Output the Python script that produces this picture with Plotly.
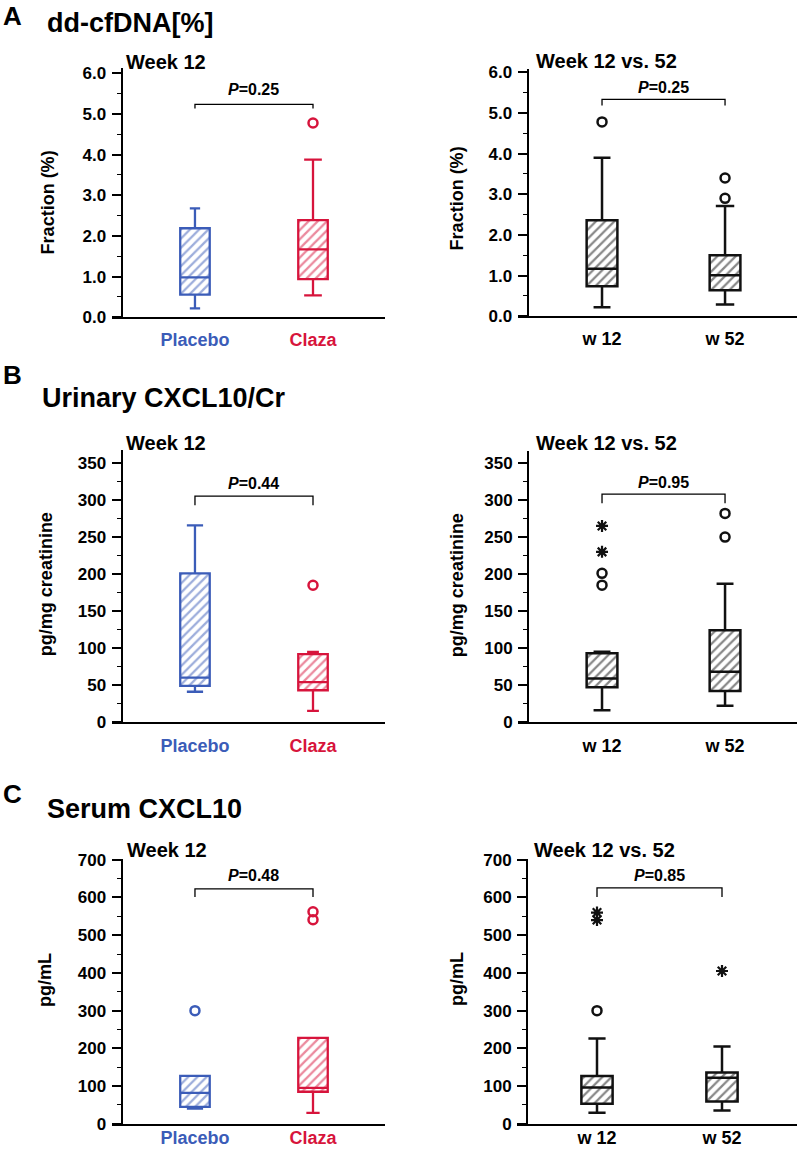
import plotly.graph_objects as go

W, H = 800, 1153
BLUE = "#3b5cb8"
RED = "#d7143c"
BLACK = "#111111"

# ---------------- data ----------------
groups_left = ["Placebo", "Claza"]
groups_right = ["w 12", "w 52"]

a_placebo = [0.22, 0.56, 0.98, 2.19, 2.68]
a_claza = [0.54, 0.94, 1.67, 2.39, 3.88]
a_claza_out = [4.78]
a_w12 = [0.22, 0.74, 1.17, 2.36, 3.90]
a_w12_out = [4.78]
a_w52 = [0.29, 0.64, 1.01, 1.50, 2.71]
a_w52_out = [2.90, 3.40]

b_placebo = [41, 49, 60, 201, 266]
b_claza = [15, 43, 54, 92, 95]
b_claza_out = [185]
b_w12 = [16, 47, 59, 93, 95]
b_w12_out = [185, 201]
b_w12_ext = [230, 265]
b_w52 = [22, 42, 68, 124, 187]
b_w52_out = [250, 282]

c_placebo = [40, 45, 82, 127, 127]
c_placebo_out = [300]
c_claza = [29, 85, 95, 228, 228]
c_claza_out = [541, 562]
c_w12 = [29, 53, 96, 127, 226]
c_w12_out = [300]
c_w12_ext = [540, 560]
c_w52 = [35, 59, 122, 136, 205]
c_w52_ext = [405]

p_values = ["0.25", "0.25", "0.44", "0.95", "0.48", "0.85"]

# vertical calibration of the capture (observed = 0.985 * page_y + 7.5)
VS, VO = 0.985, 7.5

def px_x(v):
    return v / W

def px_y(t):
    v = (t - VO) / VS
    return 1 - v / H

fig = go.Figure()
layout = {}
annotations = []
shapes = []
FONT = "Arial"

panels = [
    dict(xdom=(112, 385), ypos=121.5, ybot=317, ytop=68, yr=(0, 6.12), dt=1, mdt=0.5, fmt=".1f",
         xr=(0.297, 2.61), cats=groups_left, colored=True, stand=5,
         boxes=[a_placebo, a_claza], out=[[], a_claza_out], ext=[[], []],
         ytitle="Fraction (%)", ytx=(48, 202), sub="Week 12", subxy=(124, 62),
         p=p_values[0], pxy=(89,), br=(104, 108), ww=[0.35, 0.6]),
    dict(xdom=(518, 797), ypos=527.5, ybot=316, ytop=69, yr=(0, 6.07), dt=1, mdt=0.5, fmt=".1f",
         xr=(0.317, 2.585), cats=groups_right, colored=False, stand=5,
         boxes=[a_w12, a_w52], out=[a_w12_out, a_w52_out], ext=[[], []],
         ytitle="Fraction (%)", ytx=(457, 198), sub="Week 12 vs. 52", subxy=(534, 61),
         p=p_values[1], pxy=(87,), br=(99, 105), ww=[0.55, 0.6]),
    dict(xdom=(112, 385), ypos=121.5, ybot=722, ytop=450, yr=(0, 367.6), dt=50, mdt=25, fmt="d",
         xr=(0.297, 2.61), cats=groups_left, colored=True, stand=6,
         boxes=[b_placebo, b_claza], out=[[], b_claza_out], ext=[[], []],
         ytitle="pg/mg creatinine", ytx=(46, 584), sub="Week 12", subxy=(124, 443),
         p=p_values[2], pxy=(483,), br=(496, 505), ww=[0.55, 0.4]),
    dict(xdom=(518, 797), ypos=528, ybot=722, ytop=451, yr=(0, 366), dt=50, mdt=25, fmt="d",
         xr=(0.317, 2.585), cats=groups_right, colored=False, stand=6,
         boxes=[b_w12, b_w52], out=[b_w12_out, b_w52_out], ext=[b_w12_ext, []],
         ytitle="pg/mg creatinine", ytx=(457, 585), sub="Week 12 vs. 52", subxy=(534, 443),
         p=p_values[3], pxy=(482,), br=(494, 503), ww=[0.55, 0.55]),
    dict(xdom=(112, 385), ypos=121.5, ybot=1124, ytop=859, yr=(0, 702), dt=100, mdt=50, fmt="d",
         xr=(0.297, 2.61), cats=groups_left, colored=True, stand=-3,
         boxes=[c_placebo, c_claza], out=[c_placebo_out, c_claza_out], ext=[[], []],
         ytitle="pg/mL", ytx=(45, 980), sub="Week 12", subxy=(125, 850),
         p=p_values[4], pxy=(876,), br=(889, 897), ww=[0.55, 0.45]),
    dict(xdom=(517, 797), ypos=527, ybot=1124, ytop=859, yr=(0, 702), dt=100, mdt=50, fmt="d",
         xr=(0.36, 2.6), cats=groups_right, colored=False, stand=-3,
         boxes=[c_w12, c_w52], out=[c_w12_out, []], ext=[c_w12_ext, c_w52_ext],
         ytitle="pg/mL", ytx=(457, 979), sub="Week 12 vs. 52", subxy=(532, 850),
         p=p_values[5], pxy=(876,), br=(888, 897), ww=[0.55, 0.55]),
]

BOXW = 0.25

for i, pn in enumerate(panels):
    n = i + 1
    xa = "x" if n == 1 else f"x{n}"
    ya = "y" if n == 1 else f"y{n}"
    xkey = "xaxis" if n == 1 else f"xaxis{n}"
    ykey = "yaxis" if n == 1 else f"yaxis{n}"
    cols = [BLUE, RED] if pn["colored"] else [BLACK, BLACK]
    lw = 2.3 if pn["colored"] else 2.5

    for k, st in enumerate(pn["boxes"]):
        pos = k + 1
        c = cols[k]
        fig.add_trace(go.Bar(
            x=[pos], y=[st[3] - st[1]], base=[st[1]], width=BOXW,
            marker=dict(color="white", line=dict(width=0),
                        pattern=dict(shape="/", fgcolor=c, bgcolor="white", size=6.5, solidity=0.35)),
            xaxis=xa, yaxis=ya, showlegend=False, hoverinfo="skip"))
        fig.add_trace(go.Box(
            x=[pos], lowerfence=[st[0]], q1=[st[1]], median=[st[2]], q3=[st[3]], upperfence=[st[4]],
            width=BOXW, whiskerwidth=pn["ww"][k], line=dict(color=c, width=lw),
            fillcolor="rgba(0,0,0,0)", boxpoints=False,
            xaxis=xa, yaxis=ya, showlegend=False, hoverinfo="skip"))
        if pn["out"][k]:
            fig.add_trace(go.Scatter(
                x=[pos] * len(pn["out"][k]), y=pn["out"][k], mode="markers",
                marker=dict(symbol="circle-open", size=9, color=c, line=dict(width=2.5, color=c)),
                xaxis=xa, yaxis=ya, showlegend=False, hoverinfo="skip"))
        if pn["ext"][k]:
            fig.add_trace(go.Scatter(
                x=[pos] * len(pn["ext"][k]), y=pn["ext"][k], mode="markers",
                marker=dict(symbol="asterisk-open", size=10, color=c, line=dict(width=2.2, color=c)),
                xaxis=xa, yaxis=ya, showlegend=False, hoverinfo="skip"))

    if pn["colored"]:
        ticktext = [f'<span style="color:{BLUE}">{pn["cats"][0]}</span>',
                    f'<span style="color:{RED}">{pn["cats"][1]}</span>']
    else:
        ticktext = pn["cats"]

    layout[xkey] = dict(
        domain=[px_x(pn["xdom"][0]), px_x(pn["xdom"][1])], anchor=ya, range=list(pn["xr"]),
        showline=True, linecolor="black", linewidth=2, showgrid=False, zeroline=False,
        tickvals=[1, 2], ticktext=ticktext, ticks="", ticklabelstandoff=pn["stand"],
        tickfont=dict(family=FONT, size=18, color="black", weight="bold"), fixedrange=True)
    layout[ykey] = dict(
        domain=[px_y(pn["ybot"]), px_y(pn["ytop"])], anchor="free", position=px_x(pn["ypos"]),
        range=list(pn["yr"]), showline=True, linecolor="black", linewidth=2, showgrid=False,
        zeroline=False, dtick=pn["dt"], tick0=0, tickformat=pn["fmt"], ticks="outside", ticklen=9,
        tickwidth=1.5, tickcolor="black", ticklabelstandoff=2,
        tickfont=dict(family=FONT, size=17, color="black", weight="bold"),
        minor=dict(dtick=pn["mdt"], ticks="outside", ticklen=4, tickwidth=1.2, tickcolor="black", showgrid=False),
        fixedrange=True)

    annotations.append(dict(text=pn["ytitle"], x=px_x(pn["ytx"][0]), y=px_y(pn["ytx"][1]),
                            xref="paper", yref="paper", textangle=-90, showarrow=False,
                            xanchor="center", yanchor="middle",
                            font=dict(family=FONT, size=18, color="black", weight="bold")))
    annotations.append(dict(text=pn["sub"], x=px_x(pn["subxy"][0]), y=px_y(pn["subxy"][1]),
                            xref="paper", yref="paper", showarrow=False, xanchor="left", yanchor="middle",
                            font=dict(family=FONT, size=20, color="black", weight="bold")))
    annotations.append(dict(text=f"<i>P</i>={pn['p']}", x=1.5, y=px_y(pn["pxy"][0]),
                            xref=xa, yref="paper", showarrow=False, xanchor="center", yanchor="middle",
                            font=dict(family=FONT, size=16, color="black", weight="bold")))
    ytop_b, ybot_b = px_y(pn["br"][0]), px_y(pn["br"][1])
    shapes.append(dict(type="path", xref=xa, yref="paper",
                       path=f"M 1 {ybot_b} L 1 {ytop_b} L 2 {ytop_b} L 2 {ybot_b}",
                       line=dict(color="black", width=1.3)))

heads = [("A", 1, 15.5, 26), ("dd-cfDNA[%]", 45, 23, 27),
         ("B", 1, 375, 26), ("Urinary CXCL10/Cr", 40, 398, 27),
         ("C", 1, 794, 26), ("Serum CXCL10", 45, 809, 27)]
for t, x, y, s in heads:
    annotations.append(dict(text=t, x=px_x(x), y=px_y(y), xref="paper", yref="paper",
                            showarrow=False, xanchor="left", yanchor="middle",
                            font=dict(family=FONT, size=s, color="black", weight="bold")))

fig.update_layout(**layout)
fig.update_layout(width=W, height=H, margin=dict(l=0, r=0, t=0, b=0),
                  paper_bgcolor="white", plot_bgcolor="rgba(0,0,0,0)",
                  showlegend=False, annotations=annotations, shapes=shapes,
                  boxmode="overlay", barmode="overlay", bargap=0)

fig.write_html("out.html", config={"displayModeBar": False},
               post_script="document.body.style.margin='0px';document.body.style.overflow='hidden';")
